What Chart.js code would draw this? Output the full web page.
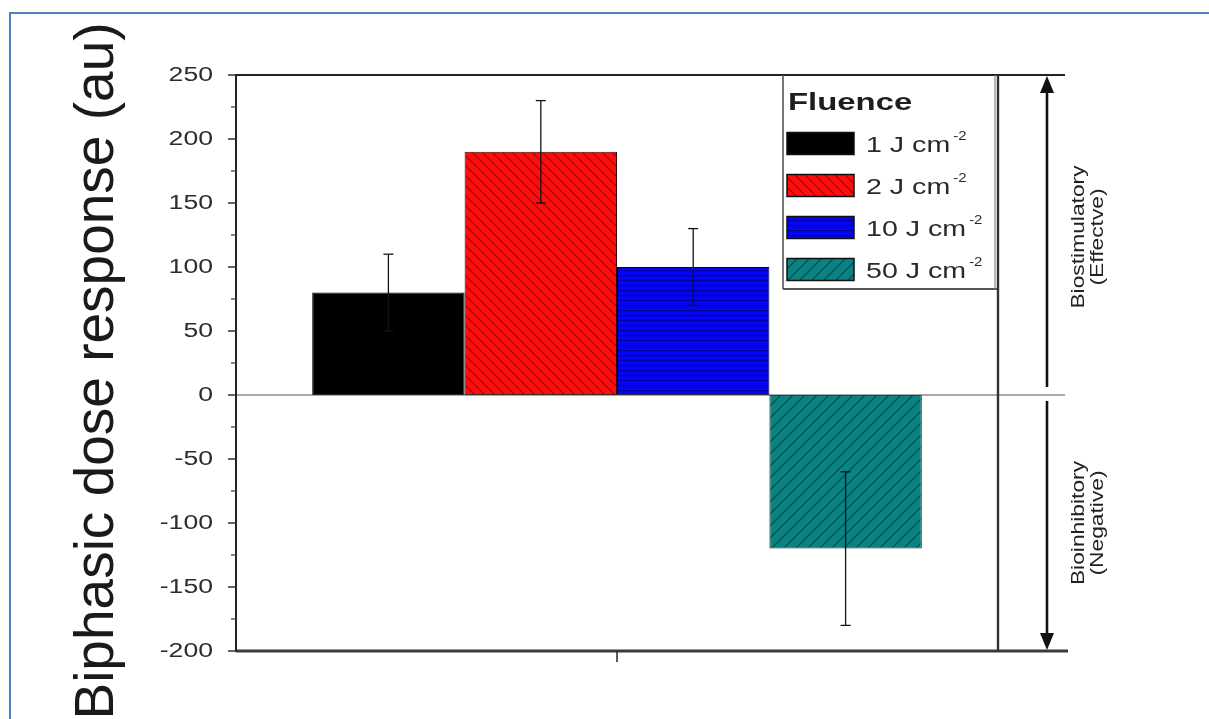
<!DOCTYPE html>
<html>
<head>
<meta charset="utf-8">
<script src="https://cdn.jsdelivr.net/npm/chart.js@4.4.1/dist/chart.umd.min.js"></script>
<style>
html,body{margin:0;padding:0;background:#fff;}
#wrap{width:1209px;height:719px;position:relative;}
</style>
</head>
<body>
<div id="wrap"><canvas id="c" width="1209" height="719"></canvas></div>
<script>
// ---- data ----
const categories = [''];
const fluenceLabels = ['1 J cm', '2 J cm', '10 J cm', '50 J cm'];
const fluenceSup = ['-2', '-2', '-2', '-2'];
const responseValues = [80, 190, 100, -120];
const errorValues = [30, 40, 30, 60];
const yTickValues = [250, 200, 150, 100, 50, 0, -50, -100, -150, -200];
const yMinorValues = [225, 175, 125, 75, 25, -25, -75, -125, -175];
const yTitle = 'Biphasic dose response (au)';
const legendTitle = 'Fluence';
const upperNote = ['Biostimulatory', '(Effectve)'];
const lowerNote = ['Bioinhibitory', '(Negative)'];

// ---- patterns ----
function makePattern(bg, size, drawFn) {
  const c = document.createElement('canvas');
  c.width = size; c.height = size;
  const x = c.getContext('2d');
  x.fillStyle = bg; x.fillRect(0, 0, size, size);
  drawFn(x, size);
  return x.createPattern(c, 'repeat');
}
const fills = [
  '#000000',
  makePattern('#ff0c0c', 10, (x, s) => {
    x.strokeStyle = 'rgba(90,0,0,0.5)'; x.lineWidth = 1.3;
    x.beginPath(); x.moveTo(-1, -1); x.lineTo(s + 1, s + 1);
    x.moveTo(-1, s - 1); x.lineTo(1, s + 1);
    x.moveTo(s - 1, -1); x.lineTo(s + 1, 1); x.stroke();
  }),
  makePattern('#0505f5', 5, (x, s) => {
    x.fillStyle = 'rgba(0,0,70,0.5)'; x.fillRect(0, 0, s, 1.2);
  }),
  makePattern('#0b8383', 12, (x, s) => {
    x.strokeStyle = 'rgba(0,40,40,0.55)'; x.lineWidth = 1.3;
    x.beginPath(); x.moveTo(-1, s + 1); x.lineTo(s + 1, -1);
    x.moveTo(-1, 1); x.lineTo(1, -1);
    x.moveTo(s - 1, s + 1); x.lineTo(s + 1, s - 1); x.stroke();
  })
];
const borders = ['#000000', '#3a0000', '#00003a', '#033333'];

function txt(ctx, s, x, y, font, o) {
  o = o || {};
  ctx.save();
  ctx.translate(x, y);
  if (o.rot) ctx.rotate(o.rot);
  ctx.scale(o.sx || 1, o.sy || 1);
  ctx.font = font;
  ctx.textAlign = o.align || 'left';
  ctx.textBaseline = o.base || 'alphabetic';
  ctx.fillStyle = o.color || '#222';
  ctx.fillText(s, 0, 0);
  const w = ctx.measureText(s).width * (o.sx || 1);
  ctx.restore();
  return w;
}
function line(ctx, x1, y1, x2, y2, w, c) {
  ctx.save(); ctx.strokeStyle = c; ctx.lineWidth = w;
  ctx.beginPath(); ctx.moveTo(x1, y1); ctx.lineTo(x2, y2); ctx.stroke(); ctx.restore();
}

const decor = {
  id: 'decor',
  afterDatasetsDraw(chart) {
    const ctx = chart.ctx;
    const ys = chart.scales.y;
    const a = chart.chartArea;
    const y0 = ys.getPixelForValue(0);
    line(ctx, a.left, y0, a.right + 67, y0, 1.2, '#555');
    for (let i = 0; i < responseValues.length; i++) {
      const bx = chart.getDatasetMeta(i).data[0].x;
      const yt = ys.getPixelForValue(responseValues[i] + errorValues[i]);
      const yb = ys.getPixelForValue(responseValues[i] - errorValues[i]);
      line(ctx, bx, yt, bx, yb, 1.3, '#141414');
      line(ctx, bx - 5, yt, bx + 5, yt, 1.3, '#141414');
      line(ctx, bx - 5, yb, bx + 5, yb, 1.3, '#141414');
    }
  },
  afterDraw(chart) {
    const ctx = chart.ctx;
    const ys = chart.scales.y, xs = chart.scales.x;
    const a = chart.chartArea;
    const y0 = ys.getPixelForValue(0);
    // outer blue frame
    line(ctx, 10, 13, 1209, 13, 2, '#4f81bd');
    line(ctx, 10, 12, 10, 719, 2, '#4f81bd');
    // axis lines
    line(ctx, a.left, a.top, a.right + 67, a.top, 2, '#222');
    line(ctx, a.left, a.bottom, a.right + 70, a.bottom, 2.8, '#3a3a3a');
    line(ctx, a.left, a.top - 1, a.left, a.bottom + 1, 2, '#222');
    line(ctx, a.right, a.top, a.right, a.bottom, 2, '#222');
    // y ticks
    yTickValues.forEach(v => {
      const py = ys.getPixelForValue(v);
      line(ctx, a.left - 8, py, a.left, py, 1.5, '#333');
      txt(ctx, String(v), a.left - 23, py, '20px "Liberation Sans", Arial, sans-serif',
        { align: 'right', base: 'middle', sx: 1.33, color: '#2e2e2e' });
    });
    yMinorValues.forEach(v => {
      const py = ys.getPixelForValue(v);
      line(ctx, a.left - 5, py, a.left, py, 1.3, '#444');
    });
    // x tick
    const cx = xs.getPixelForValue(0);
    line(ctx, cx, a.bottom, cx, a.bottom + 11, 1.6, '#333');
    // y title
    txt(ctx, yTitle, 113, 371, '55px "Liberation Sans", Arial, sans-serif',
      { rot: -Math.PI / 2, align: 'center', color: '#1a1a1a' });
    // legend box
    const lx = 783, lt = a.top, lb = 289;
    ctx.save(); ctx.fillStyle = '#fff'; ctx.fillRect(lx, lt + 1, a.right - lx - 1, lb - lt - 1); ctx.restore();
    line(ctx, lx, lt, lx, lb, 1.6, '#555');
    line(ctx, lx, lb, a.right, lb, 2, '#555');
    line(ctx, a.right, a.top, a.right, a.bottom, 2.4, '#333');
    line(ctx, a.right - 3, a.top, a.right - 3, lb, 1.2, '#888');
    txt(ctx, legendTitle, 788, 110, 'bold 24px "Liberation Sans", Arial, sans-serif',
      { sx: 1.37, color: '#1e1e1e' });
    const rowC = [143.5, 185.5, 227.5, 269.5];
    for (let i = 0; i < fluenceLabels.length; i++) {
      const cy = rowC[i];
      ctx.save();
      ctx.fillStyle = fills[i];
      ctx.fillRect(787, cy - 11, 67, 22);
      ctx.strokeStyle = '#111'; ctx.lineWidth = 1.5;
      ctx.strokeRect(787, cy - 11, 67, 22);
      ctx.restore();
      const w = txt(ctx, fluenceLabels[i], 866, cy + 8, '22px "Liberation Sans", Arial, sans-serif',
        { sx: 1.3, color: '#2a2a2a' });
      txt(ctx, fluenceSup[i], 866 + w + 3, cy - 4, '13px "Liberation Sans", Arial, sans-serif',
        { sx: 1.15, color: '#2a2a2a' });
    }
    // right arrows
    const ax = 1047;
    const yTop = ys.getPixelForValue(250), yBot = ys.getPixelForValue(-200);
    line(ctx, ax, yTop + 14, ax, y0 - 8, 2.6, '#111');
    line(ctx, ax, y0 + 6, ax, yBot - 14, 2.6, '#111');
    ctx.save(); ctx.fillStyle = '#111';
    ctx.beginPath(); ctx.moveTo(ax, yTop + 1); ctx.lineTo(ax - 7, yTop + 18); ctx.lineTo(ax + 7, yTop + 18); ctx.closePath(); ctx.fill();
    ctx.beginPath(); ctx.moveTo(ax, yBot - 1); ctx.lineTo(ax - 7, yBot - 18); ctx.lineTo(ax + 7, yBot - 18); ctx.closePath(); ctx.fill();
    ctx.restore();
    const nf = '19px "Liberation Sans", Arial, sans-serif';
    const uc = (yTop + y0) / 2 + 2;
    const lc = (y0 + yBot) / 2;
    txt(ctx, upperNote[0], 1084, uc, nf, { rot: -Math.PI / 2, align: 'center', sx: 1.2, color: '#222' });
    txt(ctx, upperNote[1], 1103, uc, nf, { rot: -Math.PI / 2, align: 'center', sx: 1.2, color: '#222' });
    txt(ctx, lowerNote[0], 1084, lc, nf, { rot: -Math.PI / 2, align: 'center', sx: 1.2, color: '#222' });
    txt(ctx, lowerNote[1], 1103, lc, nf, { rot: -Math.PI / 2, align: 'center', sx: 1.2, color: '#222' });
  }
};

const datasets = fluenceLabels.map((lab, i) => ({
  label: lab + fluenceSup[i],
  data: [responseValues[i]],
  backgroundColor: fills[i],
  borderColor: borders[i],
  borderWidth: 1,
  borderSkipped: false,
  categoryPercentage: 0.8,
  barPercentage: 1.0
}));

new Chart(document.getElementById('c'), {
  type: 'bar',
  data: { labels: categories, datasets },
  options: {
    responsive: false,
    animation: false,
    devicePixelRatio: 1,
    layout: { padding: { left: 236, right: 211, top: 75, bottom: 68 } },
    plugins: { legend: { display: false }, tooltip: { enabled: false } },
    scales: {
      x: { display: false, offset: true },
      y: { display: false, min: -200, max: 250 }
    }
  },
  plugins: [decor]
});
</script>
</body>
</html>
